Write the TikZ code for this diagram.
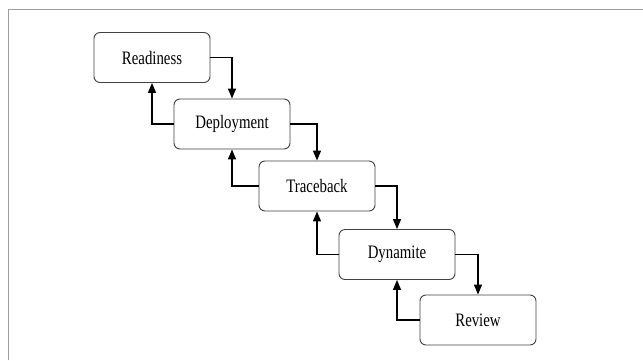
\documentclass[tikz,border=0pt]{standalone}
\usepackage{fontspec}
\setmainfont{Liberation Serif}[FakeStretch=0.78]
\usetikzlibrary{arrows.meta}
\begin{document}
\begin{tikzpicture}[x=1pt,y=-1pt,
  stage/.style={draw=black!75, line width=0.9pt, rounded corners=6pt,
    minimum width=116pt, minimum height=50pt, inner sep=0pt,
    font=\fontsize{19}{22}\selectfont},
  flow/.style={line width=1.3pt, -{Triangle[length=10pt,width=8pt]}}]
  \useasboundingbox (0,0) rectangle (643,360);
  % page frame
  \draw[gray!75, line width=1.6pt] (8.5,360) -- (8.5,9.5) -- (643,9.5);
  % stages
  \node[stage] (ready) at (152,57.5) {Readiness};
  \node[stage] (deploy) at (232,124) {Deployment};
  \node[stage] (trace) at (317,186) {Traceback};
  \node[stage] (dyn) at (397,254.5) {Dynamite};
  \node[stage] (review) at (478,320) {Review};
  % forward connectors
  \draw[flow] (ready.east) -| (deploy.north);
  \draw[flow] (deploy.east) -| (trace.north);
  \draw[flow] (trace.east) -| (dyn.north);
  \draw[flow] (dyn.east) -| (review.north);
  % feedback connectors
  \draw[flow] (deploy.west) -| (ready.south);
  \draw[flow] (trace.west) -| (deploy.south);
  \draw[flow] (dyn.west) -| (trace.south);
  \draw[flow] (review.west) -| (dyn.south);
\end{tikzpicture}
\end{document}
